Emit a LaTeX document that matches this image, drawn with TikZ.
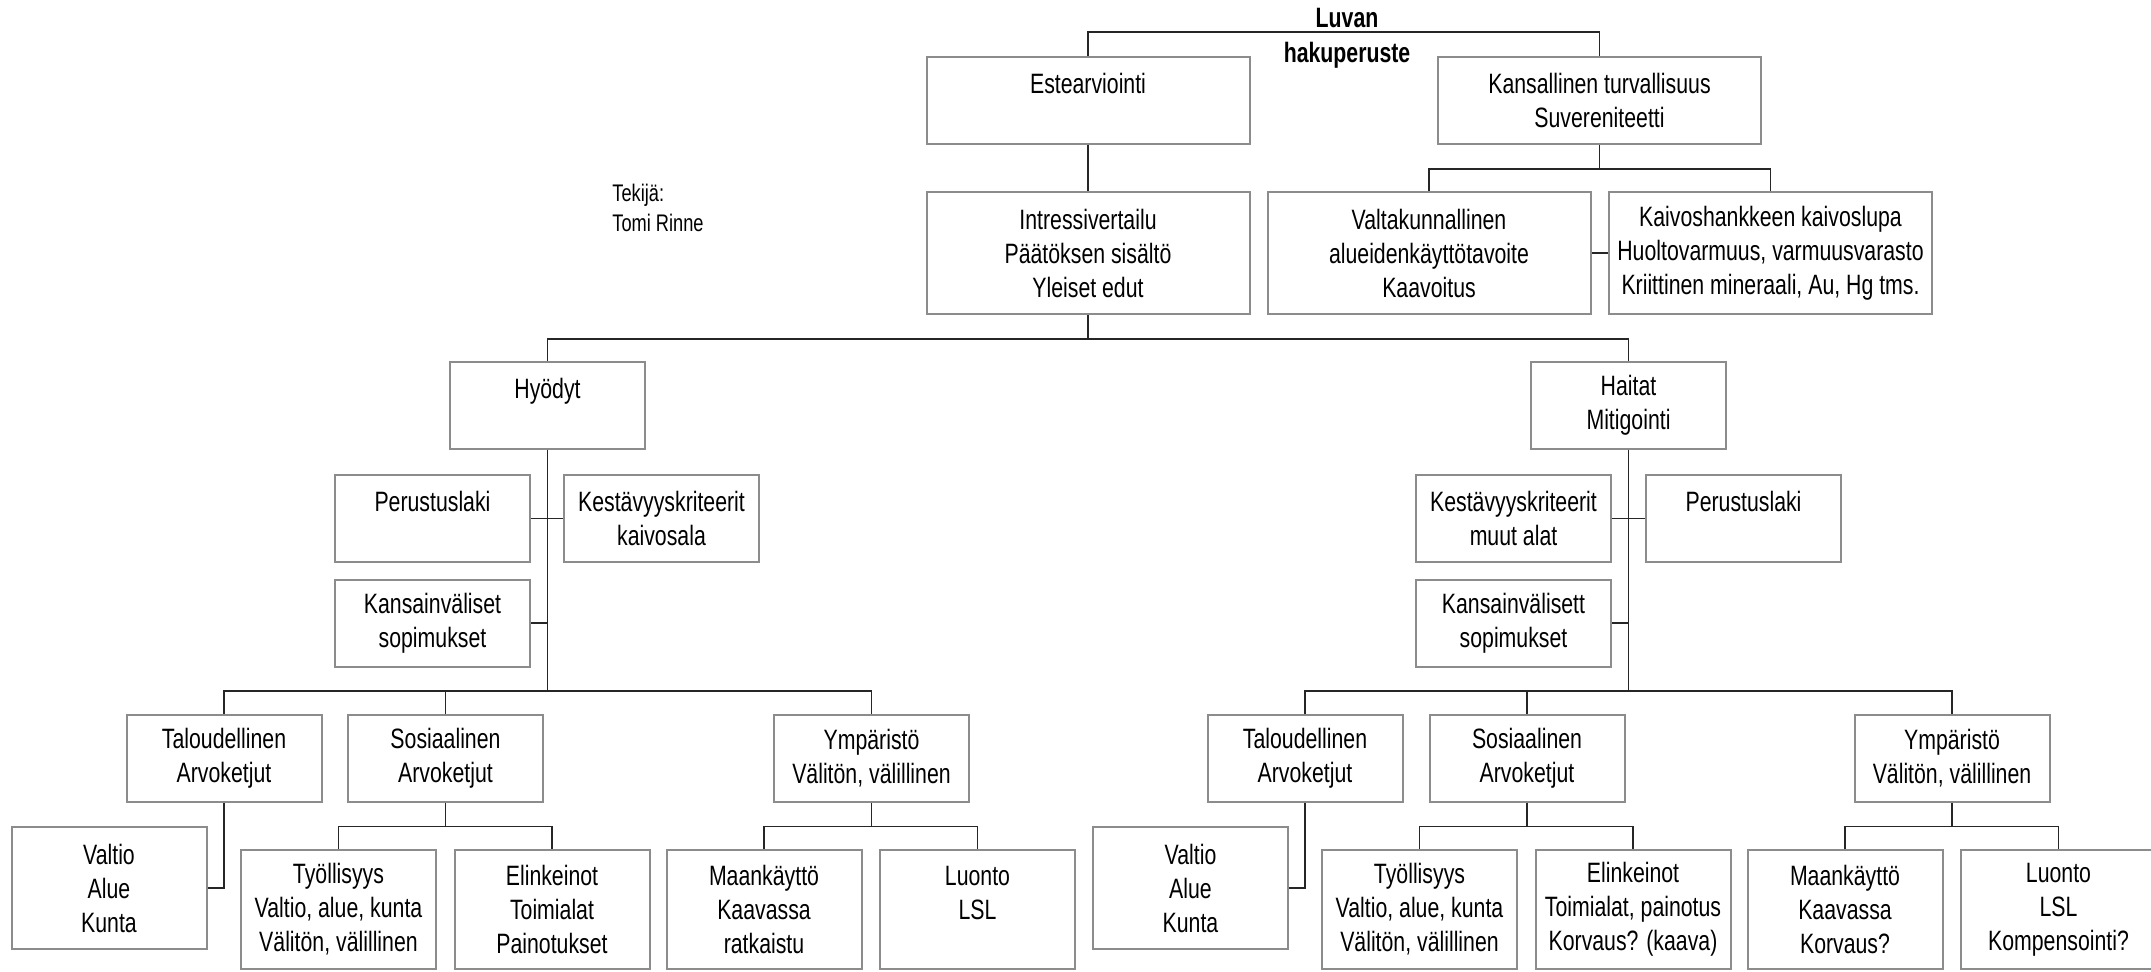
\documentclass[tikz,border=0pt]{standalone}
\usepackage{fontspec}
\setmainfont{Liberation Sans}[FakeStretch=0.76]
\begin{document}
\begin{tikzpicture}[x=0.5pt,y=-0.5pt,
    orgbox/.style={draw=black!45,line width=1pt,align=center,inner sep=1pt,minimum width=97.5pt,minimum height=43.5pt,font=\fontsize{14}{17}\selectfont},
    widebox/.style={orgbox,minimum width=161.5pt},
    tallbox/.style={minimum height=61pt},
    lowbox/.style={minimum height=59.5pt},
    link/.style={black!85,line width=0.8pt}]
    \useasboundingbox (0,0) rectangle (2151,972);
    % top levels
    \node[font=\fontsize{14}{17.5}\selectfont\bfseries,align=center] (root) at (1347,38) {Luvan\\hakuperuste};
    \node[font=\fontsize{12}{15}\selectfont,align=left,anchor=west,inner sep=0pt] (author) at (612,208) {Tekijä:\\Tomi Rinne};
    \node[widebox] (este) at (1088,100.5) {Estearviointi\\~};
    \node[widebox] (kans) at (1599.5,100.5) {Kansallinen turvallisuus\\Suvereniteetti};
    \node[widebox,tallbox] (intr) at (1088,253) {Intressivertailu\\Päätöksen sisältö\\Yleiset edut};
    \node[widebox,tallbox] (valt) at (1429,253) {Valtakunnallinen\\alueidenkäyttötavoite\\Kaavoitus};
    \node[widebox,tallbox] (kaiv) at (1770.5,253) {Kaivoshankkeen kaivoslupa\\Huoltovarmuus, varmuusvarasto\\Kriittinen mineraali, Au, Hg tms.};
    \coordinate (top) at (1346,32);
    \draw[link] (este.north) |- (top) -| (kans.north);
    \draw[link] (kans.south) -- ++(0,24) coordinate (kbus);
    \draw[link] (valt.north) |- (kbus) -| (kaiv.north);
    \draw[link] (valt.east) -- (kaiv.west);
    \draw[link] (este.south) -- (intr.north);
    % benefits and harms
    \node[orgbox] (hyod) at (547.5,405.5) {Hyödyt\\~};
    \node[orgbox] (hait) at (1628.5,405.5) {Haitat\\Mitigointi};
    \draw[link] (intr.south) -- ++(0,24) coordinate (ibus);
    \draw[link] (hyod.north) |- (ibus) -| (hait.north);
    \node[orgbox] (peru1) at (432.5,518.5) {Perustuslaki\\~};
    \node[orgbox] (kest1) at (661.5,518.5) {Kestävyyskriteerit\\kaivosala};
    \node[orgbox] (sopi1) at (432.5,623) {Kansainväliset\\sopimukset};
    \node[orgbox] (kest2) at (1513.5,518.5) {Kestävyyskriteerit\\muut alat};
    \node[orgbox] (peru2) at (1743.5,518.5) {Perustuslaki\\~};
    \node[orgbox] (sopi2) at (1513.5,623) {Kansainvälisett\\sopimukset};
    \draw[link] (hyod.south) -- ++(0,241) coordinate (hbus);
    \draw[link] (peru1.east) -- (kest1.west);
    \draw[link] (sopi1.east) -- (sopi1.east -| hyod.south);
    \draw[link] (hait.south) -- ++(0,241) coordinate (abus);
    \draw[link] (kest2.east) -- (peru2.west);
    \draw[link] (sopi2.east) -- (sopi2.east -| hait.south);
    % left branch
    \node[orgbox] (talo1) at (224,758) {Taloudellinen\\Arvoketjut};
    \node[orgbox] (sosi1) at (445.5,758) {Sosiaalinen\\Arvoketjut};
    \node[orgbox] (ymp1) at (871.5,758) {Ympäristö\\Välitön, välillinen};
    \draw[link] (talo1.north) |- (hbus) -| (ymp1.north);
    \draw[link] (sosi1.north) -- (sosi1.north |- hbus);
    \node[orgbox,tallbox] (alue1) at (109,888) {Valtio\\Alue\\Kunta};
    \node[orgbox,lowbox] (tyol1) at (338.5,909.5) {Työllisyys\\Valtio, alue, kunta\\Välitön, välillinen};
    \node[orgbox,lowbox] (elin1) at (552,909.5) {Elinkeinot\\Toimialat\\Painotukset};
    \node[orgbox,lowbox] (maan1) at (764,909.5) {Maankäyttö\\Kaavassa\\ratkaistu};
    \node[orgbox,lowbox] (luon1) at (977.5,909.5) {Luonto\\LSL\\~};
    \draw[link] (talo1.south) |- (alue1.east);
    \draw[link] (sosi1.south) -- ++(0,24) coordinate (s1);
    \draw[link] (tyol1.north) |- (s1) -| (elin1.north);
    \draw[link] (ymp1.south) -- ++(0,24) coordinate (y1);
    \draw[link] (maan1.north) |- (y1) -| (luon1.north);
    % right branch
    \node[orgbox] (talo2) at (1305,758) {Taloudellinen\\Arvoketjut};
    \node[orgbox] (sosi2) at (1527,758) {Sosiaalinen\\Arvoketjut};
    \node[orgbox] (ymp2) at (1952,758) {Ympäristö\\Välitön, välillinen};
    \draw[link] (talo2.north) |- (abus) -| (ymp2.north);
    \draw[link] (sosi2.north) -- (sosi2.north |- abus);
    \node[orgbox,tallbox] (alue2) at (1190.5,888) {Valtio\\Alue\\Kunta};
    \node[orgbox,lowbox] (tyol2) at (1419.5,909.5) {Työllisyys\\Valtio, alue, kunta\\Välitön, välillinen};
    \node[orgbox,lowbox] (elin2) at (1633,909.5) {Elinkeinot\\Toimialat, painotus\\Korvaus? (kaava)};
    \node[orgbox,lowbox] (maan2) at (1845,909.5) {Maankäyttö\\Kaavassa\\Korvaus?};
    \node[orgbox,lowbox] (luon2) at (2058.5,909.5) {Luonto\\LSL\\Kompensointi?};
    \draw[link] (talo2.south) |- (alue2.east);
    \draw[link] (sosi2.south) -- ++(0,24) coordinate (s2);
    \draw[link] (tyol2.north) |- (s2) -| (elin2.north);
    \draw[link] (ymp2.south) -- ++(0,24) coordinate (y2);
    \draw[link] (maan2.north) |- (y2) -| (luon2.north);
\end{tikzpicture}
\end{document}
